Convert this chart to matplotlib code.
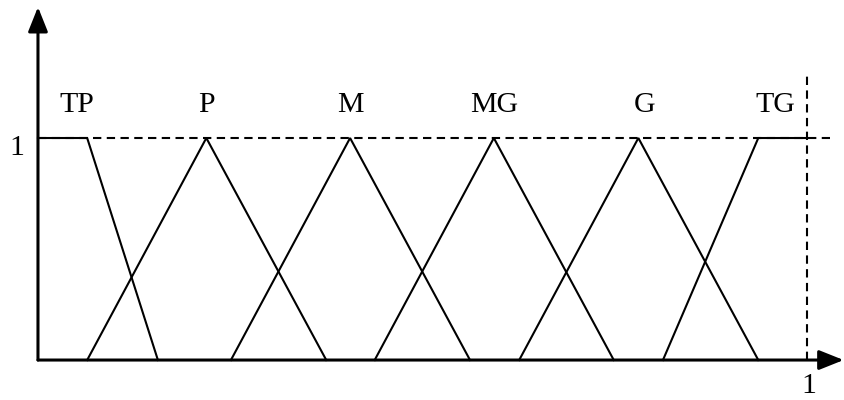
import matplotlib.pyplot as plt

# fuzzy sets: (name, x points, membership points)
names = ["TP", "P", "M", "MG", "G", "TG"]
xs = [
    [0.0, 0.064, 0.156],
    [0.064, 0.219, 0.375],
    [0.251, 0.406, 0.562],
    [0.438, 0.593, 0.749],
    [0.626, 0.781, 0.937],
    [0.813, 0.937, 1.0],
]
ys = [
    [1, 1, 0],
    [0, 1, 0],
    [0, 1, 0],
    [0, 1, 0],
    [0, 1, 0],
    [0, 1, 1],
]
label_x = [0.051, 0.219, 0.406, 0.593, 0.789, 0.959]

plt.rcParams['font.family'] = ['Liberation Serif', 'DejaVu Serif']

fig = plt.figure(figsize=(8.44, 4.0), dpi=100)
ax = fig.add_axes([0, 0, 1, 1])
ax.set_xlim(-0.0494, 1.0485)
ax.set_ylim(-0.180, 1.6216)
ax.axis('off')

# axes with arrows
arrow = dict(arrowstyle='-|>,head_length=0.75,head_width=0.3', lw=2.2,
             color='black', shrinkA=0, shrinkB=0, mutation_scale=20)
ax.annotate('', xy=(0, 1.59), xytext=(0, 0), arrowprops=arrow)
ax.annotate('', xy=(1.048, 0), xytext=(0, 0), arrowprops=arrow)

# dashed reference lines
ax.plot([0, 1.03], [1, 1], color='black', lw=1.5, dashes=(4, 2.6))
ax.plot([1, 1], [0, 1.297], color='black', lw=1.5, dashes=(4, 2.6))

for name, x, y, lx in zip(names, xs, ys, label_x):
    ax.plot(x, y, color='black', lw=1.5, solid_joinstyle='miter')
    ax.text(lx, 1.117, name, ha='center', va='baseline', fontsize=21.5)

ax.text(-0.027, 0.955, "1", ha='center', va='center', fontsize=21.5)
ax.text(1.003, -0.115, "1", ha='center', va='center', fontsize=21.5)

fig.savefig("out.png", dpi=100)
